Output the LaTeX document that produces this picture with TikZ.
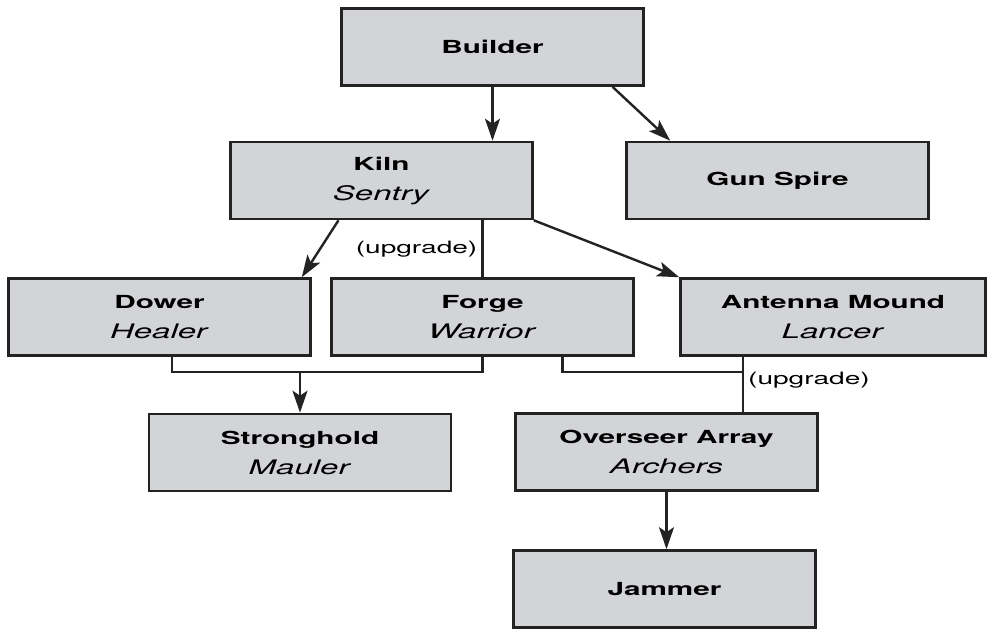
\documentclass[tikz,border=0pt]{standalone}
\usepackage{fontspec}
\setmainfont{TeX Gyre Heros}[FakeStretch=1.65]
\usepackage{tikz}
\usetikzlibrary{arrows.meta}
\definecolor{boxgray}{RGB}{211,212,215}
\definecolor{linegray}{RGB}{35,35,35}
\tikzset{
	unit/.style={draw=linegray, line width=2.6pt, fill=boxgray, minimum width=302pt, minimum height=77pt, align=center, inner sep=0pt, font=\fontsize{18}{30}\selectfont},
	link/.style={draw=linegray, line width=2.4pt},
	arr/.style={link, -{Stealth[length=22pt,width=15pt,inset=5pt]}},
	note/.style={font=\fontsize{17}{20}\selectfont, inner sep=4pt}
}
\def\bldg#1#2{\textbf{#1}\\\textit{\fontsize{20}{30}\selectfont #2}}

\begin{document}
\begin{tikzpicture}[x=1pt,y=1pt]
				\useasboundingbox (0,0) rectangle (989,-630);
				
				%buildings
				\node[unit] (builder) at (492.5,-47) {\textbf{Builder}};
				\node[unit] (kiln) at (381.5,-180.5) {\bldg{Kiln}{Sentry}};
				\node[unit] (gunspire) at (777.5,-180.5) {\textbf{Gun Spire}};
				\node[unit] (dower) at (159.5,-317) {\bldg{Dower}{Healer}};
				\node[unit] (forge) at (482.5,-317) {\bldg{Forge}{Warrior}};
				\node[unit, minimum width=305pt] (antenna) at (833,-317) {\bldg{Antenna Mound}{Lancer}};
				\node[unit] (stronghold) at (300,-452.5) {\bldg{Stronghold}{Mauler}};
				\node[unit] (overseer) at (666.5,-452) {\bldg{Overseer Array}{Archers}};
				\node[unit] (jammer) at (664.5,-589) {\textbf{Jammer}};
				
				\draw[arr] (builder.south) -- (builder.south |- kiln.north);
				\draw[arr] ([xshift=120pt]builder.south) -- ([xshift=45pt]gunspire.north west);
				\draw[arr] ([xshift=-43pt]kiln.south) -- ([xshift=-10pt]dower.north east);
				\draw[arr] (kiln.south east) -- (antenna.north west);
				\draw[link] (kiln.south -| forge.north) -- node[note, left] {(upgrade)} (forge.north);
				
				%stronghold needs dower and forge
				\coordinate (sjoin) at (300,-372);
				\draw[link] ([xshift=12.5pt]dower.south) |- (sjoin) -| (forge.south);
				\draw[arr] (sjoin) -- (stronghold.north);
				
				%overseer array needs forge and antenna mound
				\coordinate (ojoin) at (743,-372);
				\draw[link] ([xshift=80pt]forge.south) |- (ojoin);
				\draw[link] ([xshift=-90pt]antenna.south) -- node[note, right, pos=0.42] {(upgrade)} (ojoin |- overseer.north);
				\draw[arr] (overseer.south) -- (overseer.south |- jammer.north);
			\end{tikzpicture}
\end{document}
